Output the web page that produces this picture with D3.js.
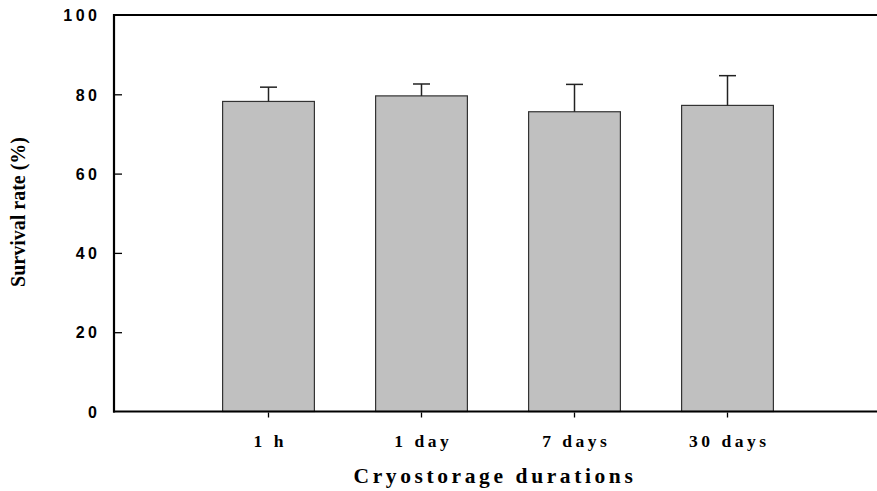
<!DOCTYPE html>
<html>
<head>
<meta charset="utf-8">
<script src="https://cdn.jsdelivr.net/npm/d3@7"></script>
<style>
  html, body { margin: 0; padding: 0; background: #fff; }
  svg { display: block; }
</style>
</head>
<body>
<svg id="chart" width="877" height="491"></svg>
<script>
// Survival after cryostorage, mean ± SD
const categories = ["1 h", "1 day", "7 days", "30 days"];
const survival = [78.2, 79.6, 75.6, 77.2];
const sdError = [3.6, 3.0, 6.9, 7.5];
const yTicks = [0, 20, 40, 60, 80, 100];

const svg = d3.select("#chart");
const W = 877, H = 491;
const plotLeft = 114, plotTop = 15, plotBottom = 411.5;
const serif = "Liberation Serif, Times New Roman, serif";

const y = d3.scaleLinear().domain([0, 100]).range([plotBottom, plotTop]);
const x = d3.scaleBand().domain(categories)
  .range([192, 804]).paddingInner(0.4).paddingOuter(0.2);

// bars
svg.append("g").selectAll("rect").data(categories).join("rect")
  .attr("x", d => x(d))
  .attr("y", (d, i) => y(survival[i]))
  .attr("width", x.bandwidth())
  .attr("height", (d, i) => y(0) - y(survival[i]))
  .attr("fill", "#c0c0c0")
  .attr("stroke", "#333")
  .attr("stroke-width", 1.2);

// error bars (upper only)
const eb = svg.append("g").attr("stroke", "#222").attr("stroke-width", 1.5);
categories.forEach((c, i) => {
  const cx = x(c) + x.bandwidth() / 2;
  eb.append("line").attr("x1", cx).attr("x2", cx)
    .attr("y1", y(survival[i])).attr("y2", y(survival[i] + sdError[i]));
  eb.append("line").attr("x1", cx - 8.5).attr("x2", cx + 8.5)
    .attr("y1", y(survival[i] + sdError[i])).attr("y2", y(survival[i] + sdError[i]));
});

// frame lines
const frame = svg.append("g").attr("stroke", "#000").attr("stroke-width", 2.2);
frame.append("line").attr("x1", plotLeft).attr("x2", W).attr("y1", plotTop).attr("y2", plotTop);
frame.append("line").attr("x1", plotLeft).attr("x2", plotLeft).attr("y1", plotTop - 1).attr("y2", plotBottom + 1);
frame.append("line").attr("x1", plotLeft - 1).attr("x2", W).attr("y1", plotBottom).attr("y2", plotBottom);

// y axis: inward ticks, bold sans labels
const yAxis = d3.axisRight(y).tickValues(yTicks).tickSize(8).tickFormat(d3.format("d"));
const ya = svg.append("g").attr("transform", `translate(${plotLeft},0)`).call(yAxis);
ya.select(".domain").remove();
ya.selectAll(".tick line").attr("stroke", "#000").attr("stroke-width", 1.3)
  .filter(d => d === 0 || d === 100).remove();
ya.selectAll(".tick text")
  .attr("x", -13.5).attr("text-anchor", "end").attr("dy", "0.36em")
  .attr("font-family", "Liberation Sans, Arial, sans-serif")
  .attr("font-weight", "bold").attr("font-size", 16)
  .attr("letter-spacing", "3.5px").attr("fill", "#000");

// x axis: outward ticks, bold serif labels
const xAxis = d3.axisBottom(x).tickSize(6).tickPadding(17);
const xa = svg.append("g").attr("transform", `translate(0,${plotBottom})`).call(xAxis);
xa.select(".domain").remove();
xa.selectAll(".tick line").attr("stroke", "#000").attr("stroke-width", 1.3).attr("y1", 1);
xa.selectAll(".tick text")
  .attr("x", 1.75)
  .attr("font-family", serif)
  .attr("font-weight", "bold").attr("font-size", 17.5)
  .attr("letter-spacing", "3.5px").attr("fill", "#000");

// axis titles
svg.append("text")
  .attr("x", 495).attr("y", 483)
  .attr("text-anchor", "middle")
  .attr("font-family", serif)
  .attr("font-weight", "bold").attr("font-size", 21.5)
  .attr("letter-spacing", "3.6px")
  .text("Cryostorage durations");

svg.append("text")
  .attr("transform", "translate(25,212) rotate(-90)")
  .attr("text-anchor", "middle")
  .attr("font-family", serif)
  .attr("font-weight", "bold").attr("font-size", 20)
  .text("Survival rate (%)");
</script>
</body>
</html>
